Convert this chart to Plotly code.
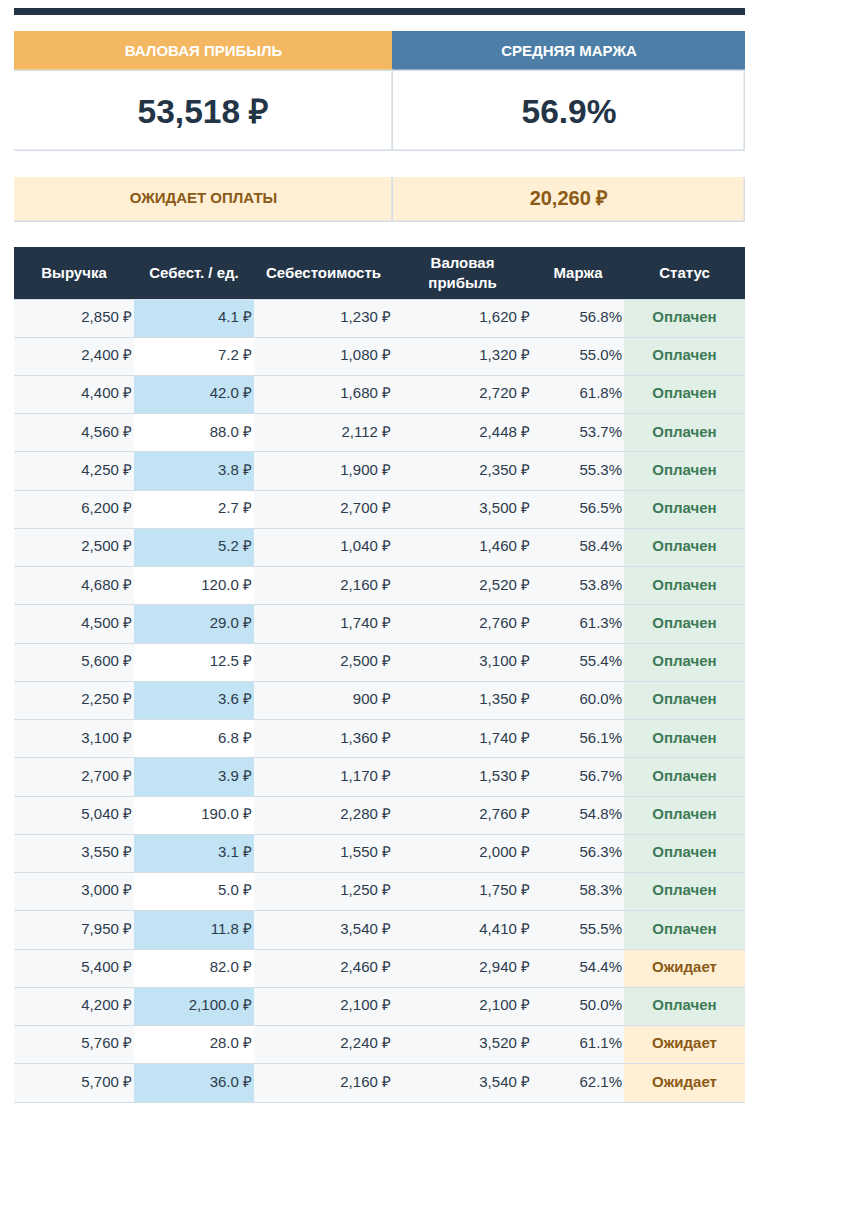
import plotly.graph_objects as go

# ---- data ----
kpi_labels = ["ВАЛОВАЯ ПРИБЫЛЬ", "СРЕДНЯЯ МАРЖА"]
kpi_values = ["53,518 ₽", "56.9%"]
pending_label = "ОЖИДАЕТ ОПЛАТЫ"
pending_value = "20,260 ₽"

columns = ["Выручка", "Себест. / ед.", "Себестоимость", "Валовая<br>прибыль", "Маржа", "Статус"]
revenue = [2850, 2400, 4400, 4560, 4250, 6200, 2500, 4680, 4500, 5600, 2250,
           3100, 2700, 5040, 3550, 3000, 7950, 5400, 4200, 5760, 5700]
unit_cost = [4.1, 7.2, 42.0, 88.0, 3.8, 2.7, 5.2, 120.0, 29.0, 12.5, 3.6,
             6.8, 3.9, 190.0, 3.1, 5.0, 11.8, 82.0, 2100.0, 28.0, 36.0]
cost = [1230, 1080, 1680, 2112, 1900, 2700, 1040, 2160, 1740, 2500, 900,
        1360, 1170, 2280, 1550, 1250, 3540, 2460, 2100, 2240, 2160]
profit = [1620, 1320, 2720, 2448, 2350, 3500, 1460, 2520, 2760, 3100, 1350,
          1740, 1530, 2760, 2000, 1750, 4410, 2940, 2100, 3520, 3540]
margin = [56.8, 55.0, 61.8, 53.7, 55.3, 56.5, 58.4, 53.8, 61.3, 55.4, 60.0,
          56.1, 56.7, 54.8, 56.3, 58.3, 55.5, 54.4, 50.0, 61.1, 62.1]
status = ["Оплачен"] * 17 + ["Ожидает", "Оплачен", "Ожидает", "Ожидает"]

# ---- styling ----
W, H = 834, 1204
LEFT = 6
NAVY = "#243447"
TXT = "#2d3b4c"
GRAY = "#f6f8fa"
BLUE = "#c2e3f3"
LINE = "#d5dde6"
GREEN_BG, GREEN_TXT = "#e1f0e6", "#3d7a56"
YEL_BG, YEL_TXT = "#feefd5", "#8a5a16"
FONT = "Liberation Sans, Arial, sans-serif"

kpi_widths = [379, 352]
col_widths = [120, 120, 139, 139, 92, 121]
ROW_H = 38.24

fig = go.Figure()
n_blocks = 0


def add_block(top, height, width):
    # one hidden subplot per block, axes in pixel units
    global n_blocks
    n_blocks += 1
    s = "" if n_blocks == 1 else str(n_blocks)
    fig.update_layout(**{
        "xaxis" + s: dict(domain=[LEFT / W, (LEFT + width) / W], range=[0, width],
                          visible=False, fixedrange=True, anchor="y" + s),
        "yaxis" + s: dict(domain=[1 - (top + height) / H, 1 - top / H], range=[height, 0],
                          visible=False, fixedrange=True, anchor="x" + s),
    })
    return "x" + s, "y" + s


def edges(widths):
    out, acc = [], 0
    for w in widths:
        out.append(acc)
        acc += w
    return out


def bars(xa, ya, widths, centers, heights, fills, lines, lw):
    lefts = edges(widths)
    for j, w in enumerate(widths):
        fig.add_trace(go.Bar(
            orientation="h", base=[lefts[j]] * len(centers), x=[w] * len(centers),
            y=centers, width=heights, marker=dict(color=fills[j], line=dict(color=lines[j], width=lw)),
            xaxis=xa, yaxis=ya, hoverinfo="skip", showlegend=False))


def texts(xa, ya, xs, ys, labels, pos, size, color):
    fig.add_trace(go.Scatter(
        mode="text", x=xs, y=ys, text=labels, textposition=pos,
        textfont=dict(family=FONT, size=size, color=color),
        xaxis=xa, yaxis=ya, hoverinfo="skip", showlegend=False, cliponaxis=False))


# KPI block: header 40px + value 80px
xa, ya = add_block(23, 120, sum(kpi_widths))
kl = edges(kpi_widths)
kc = [kl[j] + w / 2 for j, w in enumerate(kpi_widths)]
hdr_fill = ["#f3b861", "#4c7ea7"]
bars(xa, ya, kpi_widths, [20], [40], [[c] for c in hdr_fill], [[c] for c in hdr_fill], 1)
bars(xa, ya, kpi_widths, [80], [80], [["white"], ["white"]], [[LINE], [LINE]], 1.5)
texts(xa, ya, kc, [21, 21], ["<b>%s</b>" % t for t in kpi_labels], "middle center", 15, "white")
texts(xa, ya, kc, [84, 84], ["<b>%s</b>" % t for t in kpi_values], "middle center", 33.5, NAVY)

# pending block
xa, ya = add_block(169, 45, sum(kpi_widths))
bars(xa, ya, kpi_widths, [22.5], [45], [[YEL_BG], [YEL_BG]], [[LINE], [LINE]], 1.5)
texts(xa, ya, kc, [22.5, 22.5], ["<b>%s</b>" % pending_label, "<b>%s</b>" % pending_value],
      "middle center", [15, 20], YEL_TXT)

# main table header
cl = edges(col_widths)
cc = [cl[j] + w / 2 for j, w in enumerate(col_widths)]
xa, ya = add_block(239, 52, sum(col_widths))
bars(xa, ya, col_widths, [26], [52], [[NAVY]] * 6, [[NAVY]] * 6, 0)
texts(xa, ya, cc, [27] * 6, ["<b>%s</b>" % c for c in columns], "middle center", 15, "white")

# main table body
n = len(revenue)
xa, ya = add_block(291, n * ROW_H + 1, sum(col_widths))
centers = [(i + 0.5) * ROW_H for i in range(n)]
blue_col = [BLUE if i % 2 == 0 else "white" for i in range(n)]
status_fill = [GREEN_BG if s == "Оплачен" else YEL_BG for s in status]
status_color = [GREEN_TXT if s == "Оплачен" else YEL_TXT for s in status]
bars(xa, ya, col_widths, centers, [ROW_H - 1] * n,
     [GRAY, blue_col, GRAY, GRAY, GRAY, status_fill], [GRAY] * 6, 0)

cells = [["%s ₽" % f"{v:,}" for v in revenue],
         ["%s ₽" % f"{v:,.1f}" for v in unit_cost],
         ["%s ₽" % f"{v:,}" for v in cost],
         ["%s ₽" % f"{v:,}" for v in profit],
         ["%.1f%%" % v for v in margin]]
for j, col in enumerate(cells):
    texts(xa, ya, [cl[j] + col_widths[j] - 2] * n, centers, col, "middle left", 15, TXT)
texts(xa, ya, [cc[5]] * n, centers, ["<b>%s</b>" % s for s in status], "middle center", 15, status_color)

# dark strip at the very top
fig.add_shape(type="rect", xref="paper", yref="paper",
              x0=LEFT / W, x1=(LEFT + sum(col_widths)) / W, y0=1 - 7 / H, y1=1,
              fillcolor=NAVY, line=dict(width=0))

fig.update_layout(width=W, height=H, margin=dict(l=0, r=0, t=0, b=0),
                  barmode="overlay", bargap=0,
                  paper_bgcolor="white", plot_bgcolor=LINE,
                  font=dict(family=FONT))

fig.write_html("out.html")
